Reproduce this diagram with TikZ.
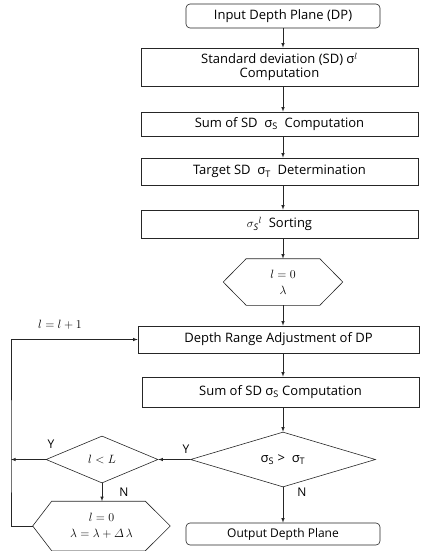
\documentclass[tikz,border=0pt]{standalone}
\usepackage{amsmath}
\usepackage{fontspec}
\setmainfont{Open Sans}
\usetikzlibrary{shapes.geometric}
\tikzset{
  stepbox/.style={draw, rectangle, inner sep=0pt, align=center},
  endbox/.style={draw, rectangle, rounded corners=4pt, inner sep=0pt, minimum width=194pt},
  hexa/.style={inner sep=0pt, align=center},
  test/.style={draw, diamond, inner sep=0pt},
  lbl/.style={font=\fontsize{12}{14}\selectfont},
}
\newcommand{\sig}{σ}
\begin{document}
\begin{tikzpicture}[x=1pt, y=-1pt, >=latex, line width=0.6pt, draw=black!85,
    font=\fontsize{13}{16}\selectfont]
  \useasboundingbox (0,0) rectangle (420,551);
  % main column
  \node[endbox, minimum height=24pt] (input) at (283,16) {Input Depth Plane (DP)};
  \node[stepbox, minimum width=277pt, minimum height=38pt] (sd) at (279.5,67)
    {Standard deviation (SD) \sig$^{l}$\\[-2pt]Computation};
  \node[stepbox, minimum width=277pt, minimum height=24pt] (sumA) at (279.5,124)
    {Sum of SD\ \ \sig\textsubscript{S}\ \ Computation};
  \node[stepbox, minimum width=277pt, minimum height=27pt] (target) at (279.5,171.5)
    {Target SD\ \ \sig\textsubscript{T}\ \ Determination};
  \node[stepbox, minimum width=277pt, minimum height=28pt] (sort) at (279.5,224)
    {$\mathit{\sigma_S}^{l}$\ \ Sorting};
  \node[hexa, minimum width=119pt, minimum height=46pt] (init) at (283,282)
    {$l = 0$\\$\lambda$};
  \draw ([xshift=23pt]init.north west) -- ([xshift=-23pt]init.north east) -- (init.east)
    -- ([xshift=-23pt]init.south east) -- ([xshift=23pt]init.south west) -- (init.west) -- cycle;
  \node[stepbox, minimum width=281pt, minimum height=27pt] (depth) at (278.5,339.5)
    {Depth Range Adjustment of DP};
  \node[stepbox, minimum width=277pt, minimum height=30pt] (sumB) at (280.5,392)
    {Sum of SD \sig\textsubscript{S} Computation};
  \node[test, minimum width=185pt, minimum height=47pt] (cmp) at (283,459.5)
    {\sig\textsubscript{S} >\ \ \sig\textsubscript{T}};
  \node[endbox, minimum height=22pt] (output) at (283,534)
    {\fontsize{12}{14}\selectfont Output Depth Plane};
  % loop side
  \node[test, minimum width=112pt, minimum height=47pt] (chk) at (102,459.5) {$l < L$};
  \node[hexa, minimum width=137pt, minimum height=49pt] (upd) at (101.5,526)
    {$l = 0$\\$\lambda = \lambda + \varDelta\,\lambda$};
  \draw ([xshift=19pt]upd.north west) -- ([xshift=-25pt]upd.north east) -- (upd.east)
    -- ([xshift=-25pt]upd.south east) -- ([xshift=19pt]upd.south west) -- (upd.west) -- cycle;
  \coordinate (back) at (11,459.5);
  % connectors
  \draw[->] (input.south) -- (input.south |- sd.north);
  \draw[->] (sd.south -| init.north) -- (sumA.north -| init.north);
  \draw[->] (sumA.south -| init.north) -- (target.north -| init.north);
  \draw[->] (target.south -| init.north) -- (sort.north -| init.north);
  \draw[->] (sort.south -| init.north) -- (init.north);
  \draw[->] (init.south) -- (depth.north -| init.south);
  \draw[->] (depth.south -| cmp.north) -- (sumB.north -| cmp.north);
  \draw[->] (sumB.south -| cmp.north) -- (cmp.north);
  \draw[->] (cmp.west) -- (chk.east);
  \draw[->] (cmp.south) -- (output.north -| cmp.south);
  \draw[->] (chk.south) -- (upd.north -| chk.south);
  \draw[->] (chk.west) -- (back);
  \draw[->] (upd.west) -| (back) |- (depth.west);
  % labels
  \node[lbl] (lblInc) at (60,325) {$l = l + 1$};
  \node[lbl] (yA) at (51,444) {Y};
  \node[lbl] (yB) at (186,449) {Y};
  \node[lbl] (nA) at (124,492) {N};
  \node[lbl] (nB) at (302,492) {N};
\end{tikzpicture}
\end{document}
